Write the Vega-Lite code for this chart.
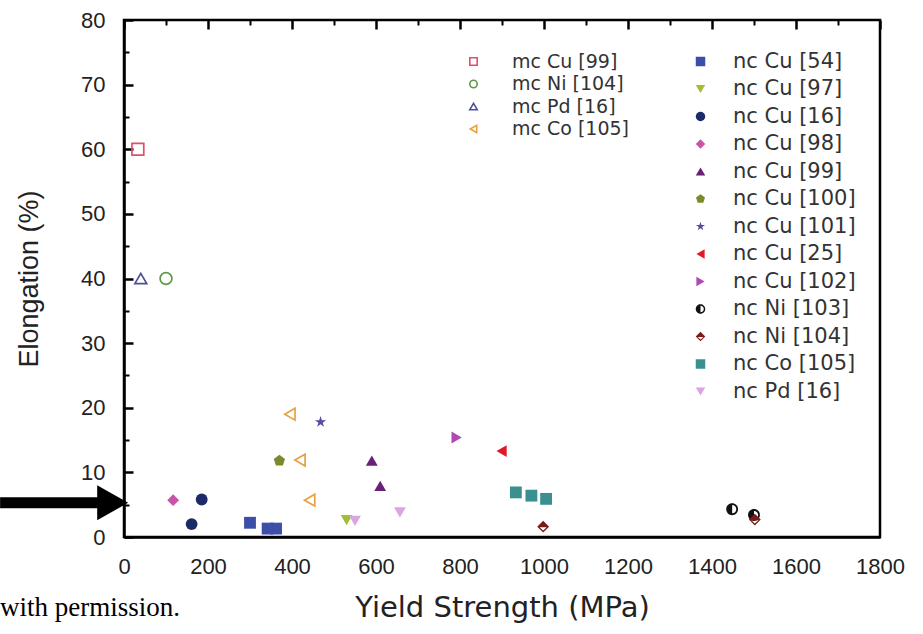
{
  "$schema": "https://vega.github.io/schema/vega-lite/v6.json",
  "width": 756,
  "height": 517,
  "autosize": {"type": "none"},
  "padding": {"left": 124, "top": 20, "right": 43, "bottom": 97},
  "background": "white",
  "config": {
    "view": {"stroke": "black", "strokeWidth": 2.5},
    "font": "Liberation Sans",
    "axis": {"domainColor": "black", "gridColor": "black", "gridOpacity": 1, "gridCap": "butt"}
  },
  "datasets": {
    "mc": [
      {"series": "mc Cu [99]", "ys": 33, "el": 60},
      {"series": "mc Ni [104]", "ys": 100, "el": 40},
      {"series": "mc Pd [16]", "ys": 40, "el": 40},
      {"series": "mc Co [105]", "ys": 395, "el": 19},
      {"series": "mc Co [105]", "ys": 419, "el": 11.9},
      {"series": "mc Co [105]", "ys": 442, "el": 5.7}
    ],
    "nc": [
      {"series": "nc Cu [54]", "ys": 300, "el": 2.2},
      {"series": "nc Cu [54]", "ys": 342, "el": 1.3},
      {"series": "nc Cu [54]", "ys": 362, "el": 1.3},
      {"series": "nc Cu [97]", "ys": 530, "el": 2.6},
      {"series": "nc Cu [16]", "ys": 185, "el": 5.8},
      {"series": "nc Cu [16]", "ys": 161, "el": 2.0},
      {"series": "nc Cu [98]", "ys": 117, "el": 5.7},
      {"series": "nc Cu [99]", "ys": 590, "el": 11.8},
      {"series": "nc Cu [99]", "ys": 610, "el": 7.9},
      {"series": "nc Cu [100]", "ys": 370, "el": 11.8},
      {"series": "nc Cu [101]", "ys": 468, "el": 17.8},
      {"series": "nc Cu [25]", "ys": 899, "el": 13.3},
      {"series": "nc Cu [102]", "ys": 792, "el": 15.4},
      {"series": "nc Ni [103]", "ys": 1448, "el": 4.3},
      {"series": "nc Ni [103]", "ys": 1500, "el": 3.4},
      {"series": "nc Ni [104]", "ys": 998, "el": 1.6},
      {"series": "nc Ni [104]", "ys": 1502, "el": 2.7},
      {"series": "nc Co [105]", "ys": 933, "el": 6.9},
      {"series": "nc Co [105]", "ys": 970, "el": 6.4},
      {"series": "nc Co [105]", "ys": 1005, "el": 5.9},
      {"series": "nc Pd [16]", "ys": 550, "el": 2.5},
      {"series": "nc Pd [16]", "ys": 657, "el": 3.8}
    ]
  },
  "layer": [
    {
      "data": {"name": "mc"},
      "mark": {"type": "point", "filled": false, "strokeWidth": 1.7, "size": 140, "opacity": 1},
      "encoding": {
        "x": {"field": "ys", "type": "quantitative",
          "scale": {"domain": [0, 1800], "nice": false, "zero": false},
          "axis": {"orient": "bottom", "values": [0, 200, 400, 600, 800, 1000, 1200, 1400, 1600, 1800],
            "format": "d", "ticks": false, "grid": true, "gridDash": [9, 2000], "gridWidth": 2.5,
            "domain": true, "domainWidth": 2.5, "labelFontSize": 22, "labelPadding": 19,
            "labelColor": "#222", "labelFlush": false, "labelOverlap": false,
            "title": "Yield Strength (MPa)", "titleFont": "DejaVu Sans", "titleFontSize": 29, "titleFontWeight": "normal",
            "titleColor": "#222", "titlePadding": 16}},
        "y": {"field": "el", "type": "quantitative",
          "scale": {"domain": [0, 80], "nice": false, "zero": false},
          "axis": {"orient": "left", "values": [0, 10, 20, 30, 40, 50, 60, 70, 80],
            "format": "d", "ticks": false, "grid": true, "gridDash": [9, 2000], "gridWidth": 2.5,
            "domain": true, "domainWidth": 2.5, "labelFontSize": 22, "labelPadding": 19,
            "labelColor": "#222", "labelFlush": false, "labelOverlap": false,
            "title": "Elongation (%)", "titleFontSize": 27, "titleFontWeight": "normal",
            "titleColor": "#222", "titlePadding": 37}},
        "color": {"field": "series", "type": "nominal",
          "scale": {"domain": ["mc Cu [99]", "mc Ni [104]", "mc Pd [16]", "mc Co [105]"],
            "range": ["#e0506a", "#5e9a44", "#4a4f9a", "#e8a040"]},
          "legend": {"orient": "none", "legendX": 340, "legendY": 32, "title": null, "symbolSize": 55,
            "symbolStrokeWidth": 1.6, "labelFont": "DejaVu Sans", "labelFontSize": 19, "labelColor": "#333", "rowPadding": 2.5,
            "labelOffset": 29, "padding": 0}},
        "shape": {"field": "series", "type": "nominal",
          "scale": {"domain": ["mc Cu [99]", "mc Ni [104]", "mc Pd [16]", "mc Co [105]"],
            "range": ["square", "circle", "triangle-up", "triangle-left"]},
          "legend": {"orient": "none", "legendX": 340, "legendY": 32, "title": null, "symbolSize": 55,
            "symbolStrokeWidth": 1.6, "labelFont": "DejaVu Sans", "labelFontSize": 19, "labelColor": "#333", "rowPadding": 2.5,
            "labelOffset": 29, "padding": 0}}
      }
    },
    {
      "data": {"name": "nc"},
      "mark": {"type": "point", "filled": true, "size": 140, "opacity": 1, "strokeWidth": 0},
      "encoding": {
        "x": {"field": "ys", "type": "quantitative",
          "scale": {"domain": [0, 1800], "nice": false, "zero": false},
          "axis": {"orient": "bottom", "values": [100, 300, 500, 700, 900, 1100, 1300, 1500, 1700],
            "labels": false, "domain": false, "ticks": false, "grid": true, "gridDash": [5, 2000], "gridWidth": 2, "title": null}},
        "y": {"field": "el", "type": "quantitative",
          "scale": {"domain": [0, 80], "nice": false, "zero": false},
          "axis": {"orient": "left", "values": [5, 15, 25, 35, 45, 55, 65, 75],
            "labels": false, "domain": false, "ticks": false, "grid": true, "gridDash": [5, 2000], "gridWidth": 2, "title": null}},
        "color": {"field": "series", "type": "nominal",
          "scale": {"domain": ["nc Cu [54]", "nc Cu [97]", "nc Cu [16]", "nc Cu [98]", "nc Cu [99]", "nc Cu [100]", "nc Cu [101]", "nc Cu [25]", "nc Cu [102]", "nc Ni [103]", "nc Ni [104]", "nc Co [105]", "nc Pd [16]"],
            "range": ["#3b4fa8", "#a3bd34", "#1c2a6a", "#c853a8", "#6a1f78", "#7d8a2a", "#5a4aa0", "#e01828", "#b048b8", "#111111", "#7a1a1a", "#3a9090", "#d9a6e0"]},
          "legend": {"orient": "none", "legendX": 566, "legendY": 31, "title": null, "symbolSize": 90,
            "labelFont": "DejaVu Sans", "labelFontSize": 21, "labelColor": "#333", "rowPadding": 5.5, "labelOffset": 22, "padding": 0, "symbolStrokeWidth": 0}},
        "shape": {"field": "series", "type": "nominal",
          "scale": {"domain": ["nc Cu [54]", "nc Cu [97]", "nc Cu [16]", "nc Cu [98]", "nc Cu [99]", "nc Cu [100]", "nc Cu [101]", "nc Cu [25]", "nc Cu [102]", "nc Ni [103]", "nc Ni [104]", "nc Co [105]", "nc Pd [16]"],
            "range": ["square", "triangle-down", "circle", "diamond", "triangle-up",
              "M0,-1L0.951,-0.309L0.588,0.809L-0.588,0.809L-0.951,-0.309Z",
              "M0,-1L0.225,-0.309L0.951,-0.309L0.363,0.118L0.588,0.809L0,0.382L-0.588,0.809L-0.363,0.118L-0.951,-0.309L-0.225,-0.309Z",
              "triangle-left", "triangle-right",
              "M0,-1A1,1 0 0,1 0,1L0,0.7A0.7,0.7 0 0,0 0,-0.7Z M0,-1A1,1 0 0,0 0,1Z",
              "M-1,0L0,-1L1,0L0,1Z M-0.6,0.12L0,0.65L0.6,0.12Z",
              "square", "triangle-down"]},
          "legend": {"orient": "none", "legendX": 566, "legendY": 31, "title": null, "symbolSize": 90,
            "labelFont": "DejaVu Sans", "labelFontSize": 21, "labelColor": "#333", "rowPadding": 5.5, "labelOffset": 22, "padding": 0, "symbolStrokeWidth": 0}}
      }
    },
    {
      "data": {"values": [{}]},
      "mark": {"type": "rule", "strokeWidth": 11, "color": "black", "strokeCap": "butt"},
      "encoding": {
        "x": {"datum": -295, "type": "quantitative",
          "scale": {"domain": [0, 1800], "nice": false, "zero": false}, "axis": null},
        "x2": {"datum": -62},
        "y": {"datum": 5.3, "type": "quantitative",
          "scale": {"domain": [0, 80], "nice": false, "zero": false}, "axis": null}
      }
    },
    {
      "data": {"values": [{}]},
      "mark": {"type": "point", "shape": "M-1,-1.13L1,0L-1,1.13Z", "filled": true, "color": "black", "size": 961, "opacity": 1},
      "encoding": {
        "x": {"datum": -27, "type": "quantitative", "scale": {"domain": [0, 1800], "nice": false, "zero": false}, "axis": null},
        "y": {"datum": 5.3, "type": "quantitative", "scale": {"domain": [0, 80], "nice": false, "zero": false}, "axis": null}
      }
    },
    {
      "data": {"values": [{}]},
      "mark": {"type": "text", "text": "with permission.", "font": "Liberation Serif", "fontSize": 27, "align": "left", "baseline": "middle", "color": "black"},
      "encoding": {
        "x": {"datum": -295, "type": "quantitative", "scale": {"domain": [0, 1800], "nice": false, "zero": false}, "axis": null},
        "y": {"datum": -11, "type": "quantitative", "scale": {"domain": [0, 80], "nice": false, "zero": false}, "axis": null}
      }
    }
  ],
  "resolve": {
    "scale": {"color": "independent", "shape": "independent"},
    "axis": {"x": "independent", "y": "independent"}
  }
}
